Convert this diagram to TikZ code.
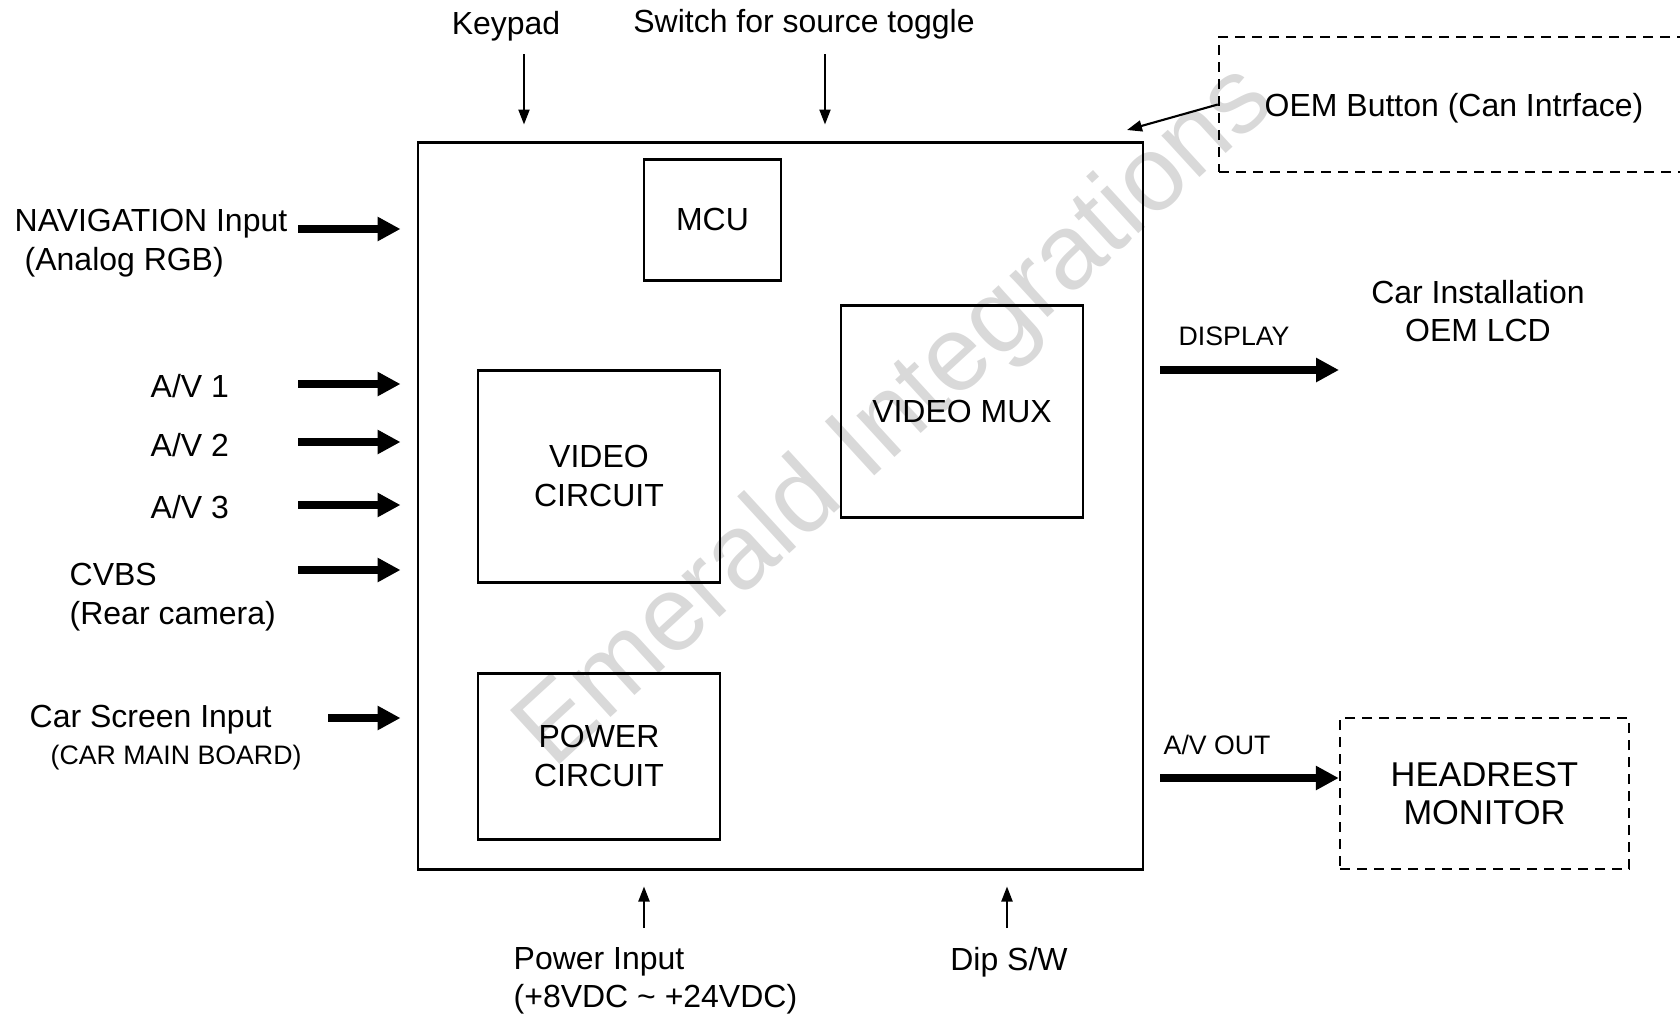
\documentclass[tikz,border=0pt]{standalone}
\usepackage{fontspec}
\setmainfont{Liberation Sans}
\usetikzlibrary{arrows.meta, positioning, calc}

\begin{document}
\begin{tikzpicture}[x=0.1mm, y=-0.1mm,
    every node/.style={font=\fontsize{9.1}{10.9}\selectfont, inner sep=0pt},
    blk/.style={draw, line width=0.85pt, align=center},
    dbox/.style={draw, line width=0.7pt, dash pattern=on 1mm off 0.7mm, align=center},
    thk/.style={-{Triangle[length=2.3mm, width=2.3mm]}, line width=2pt},
    thn/.style={-{Triangle[length=1.5mm, width=1.1mm]}, line width=0.6pt},
    sm/.style={font=\fontsize{7.6}{9}\selectfont},
    wm/.style={font=\fontsize{30.3}{31}\selectfont, text=gray!30, rotate=42.5}
]
\clip (0,0) rectangle (1680,1017);

% watermark
\node[wm] (wmark) at (897,418) {Emerald Integrations};

% main unit
\node[blk, minimum width=72.5mm, minimum height=72.7mm] (main) at (780.5,505.5) {};
\node[blk, minimum width=13.7mm, minimum height=12.1mm] (mcu) at (712.5,219.5) {MCU};
\node[blk, minimum width=24.2mm, minimum height=21.2mm] (vc) at (599,476) {VIDEO\\CIRCUIT};
\node[blk, minimum width=24.2mm, minimum height=21.2mm] (mux) at (962,411) {VIDEO MUX};
\node[blk, minimum width=24.2mm, minimum height=16.6mm] (pwr) at (599,756) {POWER\\CIRCUIT};

% outside units
\node[dbox, minimum width=48.1mm, minimum height=13.5mm] (oem) at (1459.5,104.5) {};
\node[anchor=west] (oemt) at (1264,108) {OEM Button (Can Intrface)};
\node[dbox, minimum width=28.9mm, minimum height=15.1mm,
      font=\fontsize{9.8}{11}\selectfont] (hr) at (1484.5,793.5) {HEADREST\\MONITOR};
\node[align=center] (lcd) at (1478,311) {Car Installation\\OEM LCD};

% top inputs
\node (kp) at (506,26) {Keypad};
\node (sw) at (804,24) {Switch for source toggle};
\coordinate (kpa) at (524,54);
\coordinate (swa) at (825,54);
\draw[thn, shorten >=1.6mm] (kpa) -- (kpa |- main.north);
\draw[thn, shorten >=1.6mm] (swa) -- (swa |- main.north);
\coordinate (oemtip) at (1127,130);
\draw[thn] (oem.west) -- (oemtip);

% left inputs
\node[anchor=west, align=left] (nav) at (14,243) {NAVIGATION Input\\\hspace*{1mm}(Analog RGB)};
\node[anchor=west] (av1) at (150,386) {A/V 1};
\node[anchor=west] (av2) at (150,445) {A/V 2};
\node[anchor=west] (av3) at (150,507) {A/V 3};
\node[anchor=west, align=left] (cvbs) at (69,597) {CVBS\\(Rear camera)};
\node[anchor=west] (csi) at (29,720) {Car Screen Input};
\node[anchor=west, sm] (csib) at (50,758) {(CAR MAIN BOARD)};
\coordinate (navi) at (298,229);
\coordinate (av1i) at (298,384);
\coordinate (av2i) at (298,442);
\coordinate (av3i) at (298,505);
\coordinate (cvi) at (298,570);
\coordinate (csii) at (328,718);
\foreach \c in {navi,av1i,av2i,av3i,cvi,csii}
  \draw[thk, shorten >=1.6mm] (\c) -- (\c -| main.west);

% right outputs
\node[anchor=west, sm] (dspt) at (1178,336) {DISPLAY};
\node[anchor=west, sm] (avot) at (1163,745) {A/V OUT};
\coordinate (dsp) at (1339,370);
\coordinate (avo) at (1250,778);
\draw[thk, shorten <=1.6mm] (dsp -| main.east) -- (dsp);
\draw[thk, shorten <=1.6mm] (avo -| main.east) -- (avo -| hr.west);

% bottom inputs
\node[anchor=west, align=left] (pin) at (513,981) {Power Input\\(+8VDC \textasciitilde{} +24VDC)};
\node (dip) at (1009,962) {Dip S/W};
\coordinate (pwa) at (644,928);
\coordinate (dipa) at (1007,928);
\draw[thn, shorten >=1.6mm] (pwa) -- (pwa |- main.south);
\draw[thn, shorten >=1.6mm] (dipa) -- (dipa |- main.south);
\end{tikzpicture}
\end{document}
